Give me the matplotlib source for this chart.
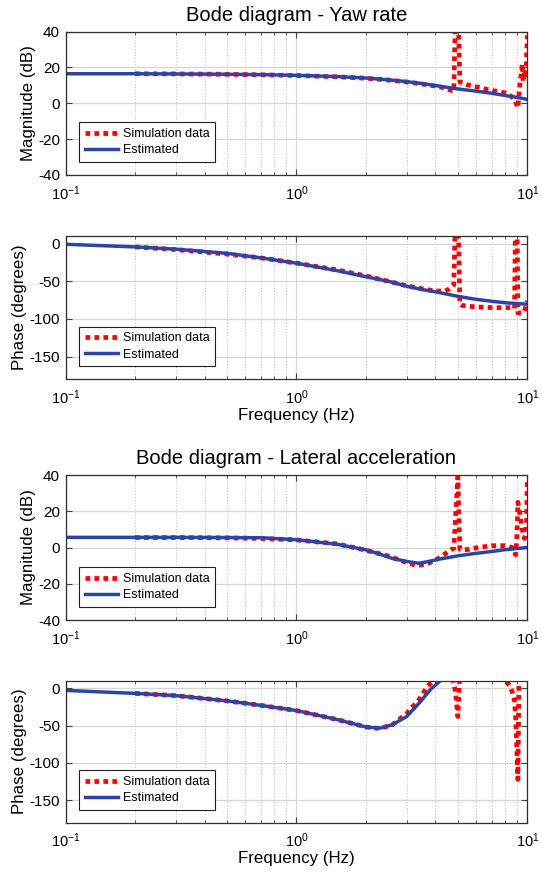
import numpy as np
import matplotlib
matplotlib.use('Agg')
import matplotlib.pyplot as plt
from matplotlib.ticker import LogLocator, NullFormatter

plt.rcParams['font.family'] = 'Liberation Sans'
plt.rcParams['mathtext.fontset'] = 'custom'
plt.rcParams['mathtext.rm'] = 'Liberation Sans'
plt.rcParams['mathtext.it'] = 'Liberation Sans:italic'
plt.rcParams['axes.unicode_minus'] = False

# estimated model
est_f = [0.1, 0.2, 0.3, 0.5, 0.7, 1.0, 1.5, 2.0, 2.5, 3.0, 3.5, 4.0, 5.0, 6.0, 7.0, 8.0, 9.0, 10.0]
est_yaw_mag = [16.5, 16.5, 16.4, 16.2, 16.0, 15.6, 14.9, 14.1, 13.1, 12.1, 11.0, 9.9, 8.0, 6.8, 5.6, 4.4, 3.3, 2.2]
est_yaw_ph = [-1, -4.5, -7.5, -13, -19, -26, -36, -44, -50, -56.5, -61, -64, -70, -74, -76.5, -78.5, -79.5, -80.5]

est_f2 = [0.1, 0.2, 0.3, 0.5, 0.7, 1.0, 1.5, 2.0, 2.3, 2.6, 3.0, 3.4, 3.8, 4.2, 5.0, 6.0, 7.0, 8.0, 10.0]
est_lat_mag = [5.6, 5.6, 5.6, 5.5, 5.4, 4.3, 1.8, -1.3, -3.7, -6.0, -7.7, -8.7, -7.5, -6.3, -4.6, -3.2, -2.2, -1.2, 0.0]
est_lat_ph = [-3, -7, -10, -17, -23, -30, -42, -52, -53.5, -49, -38, -20, -2, 10, 25, 30, 30, 30, 30]

# simulation data
sim_f1 = [0.2, 0.3, 0.5, 0.7, 1.0, 1.5, 2.0, 2.5, 3.0, 3.5, 4.0, 4.3, 4.6, 4.8, 4.9, 5.0, 5.1, 5.2, 5.5, 6.0,
          7.0, 8.0, 8.5, 8.8, 9.0, 9.1, 9.2, 9.3, 9.4, 9.5, 9.6, 9.7, 9.8, 9.9, 10.0]
sim_yaw_mag = [16.5, 16.4, 16.2, 15.9, 15.5, 14.8, 14.0, 13.0, 11.9, 10.8, 9.6, 8.8, 7.5, 6.8, 60, 60, 12.0, 11.5, 10.3, 9.2,
               7.2, 5.8, 4.0, 2.0, -1.0, -2.5, 5.0, 12.0, 16.0, 22.0, 12.0, 18.0, 14.0, 22.0, 38.0]

sim_f2 = [0.2, 0.3, 0.5, 0.7, 1.0, 1.5, 2.0, 2.5, 3.0, 3.5, 4.0, 4.4, 4.6, 4.8, 4.9, 5.0, 5.1, 5.2, 5.5, 6.0,
          7.0, 8.0, 8.5, 8.8, 8.9, 9.0, 9.1, 9.3, 9.5, 9.7, 9.9, 10.0]
sim_yaw_ph = [-4.5, -8, -14, -19, -26, -35, -43, -50, -56, -60, -63, -63, -60, -55, 60, 60, -80, -82, -83, -84,
              -85, -85, -85, -86, 60, 60, -92, -92, -92, -90, -82, -76]

sim_f3 = [0.2, 0.3, 0.5, 0.7, 1.0, 1.5, 2.0, 2.5, 3.0, 3.3, 3.6, 4.0, 4.4, 4.7, 4.8, 5.0, 5.1, 5.3, 5.6, 6.0,
          7.0, 8.0, 8.6, 8.8, 8.9, 9.0, 9.1, 9.3, 9.5, 9.7, 9.9, 10.0]
sim_lat_mag = [5.5, 5.5, 5.3, 5.0, 4.2, 2.0, -1.5, -4.7, -8.3, -9.8, -9.5, -7.0, -3.5, -1.0, -0.5, 39.0, -1.0, -1.3, -1.0, -0.2,
               1.0, 1.0, 0.0, -3.0, -4.0, 5.0, 25.0, 18.0, 10.0, 5.0, 8.0, 38.0]

sim_f4 = [0.2, 0.3, 0.5, 0.7, 1.0, 1.5, 2.0, 2.3, 2.6, 3.0, 3.4, 3.7, 4.0, 4.4, 4.7, 4.8, 4.9, 5.0, 5.1, 6.0,
          8.0, 8.4, 8.6, 8.8, 8.9, 9.0, 9.1, 9.2, 10.0]
sim_lat_ph = [-7, -10, -17, -23, -30, -42, -52, -54, -49, -34, -15, 3, 12, 16, 12, 9, -10, -38, 20, 30,
              11, 3, -5, -17, -40, -80, -122, 20, 30]

panels = [
    (sim_f1, sim_yaw_mag, est_f, est_yaw_mag, 'mag', 'Bode diagram - Yaw rate', False),
    (sim_f2, sim_yaw_ph, est_f, est_yaw_ph, 'ph', None, True),
    (sim_f3, sim_lat_mag, est_f2, est_lat_mag, 'mag', 'Bode diagram - Lateral acceleration', False),
    (sim_f4, sim_lat_ph, est_f2, est_lat_ph, 'ph', None, True),
]
boxes = [(0.121, 0.7998, 0.852, 0.1640),
         (0.121, 0.5660, 0.852, 0.1640),
         (0.121, 0.2906, 0.852, 0.1659),
         (0.121, 0.0587, 0.852, 0.1625)]

fig = plt.figure(figsize=(5.42, 8.74), dpi=100)

for (sf, sv, ef, ev, kind, title, xl), box in zip(panels, boxes):
    ax = fig.add_axes(box)
    ax.semilogx(sf, sv, color='red', ls=(0, (1, 0.9)), lw=3.4, label='Simulation data')
    ax.semilogx(ef, ev, color='#2a45a6', lw=2.5, label='Estimated')
    ax.set_xlim(0.1, 10)
    if kind == 'mag':
        ax.set_ylim(-40, 40)
        ax.set_yticks([-40, -20, 0, 20, 40])
        ax.set_ylabel('Magnitude (dB)', fontsize=12.2, labelpad=1.5)
    else:
        ax.set_ylim(-180, 10)
        ax.set_yticks([-150, -100, -50, 0])
        ax.set_ylabel('Phase (degrees)', fontsize=12.2, labelpad=1.5)
    ax.xaxis.set_major_locator(LogLocator(base=10))
    ax.xaxis.set_minor_locator(LogLocator(base=10, subs=np.arange(2, 10)))
    ax.xaxis.set_minor_formatter(NullFormatter())
    ax.tick_params(which='both', direction='in', top=True, right=True, color='#404040')
    ax.tick_params(axis='y', labelsize=11, pad=4)
    ax.tick_params(axis='x', labelsize=10.5, pad=6.5)
    ax.tick_params(which='major', length=4)
    ax.tick_params(which='minor', length=2.5)
    ax.grid(True, which='major', color='#d6d6d6', lw=0.9, ls='-')
    ax.grid(True, which='minor', axis='x', color='#bcbcbc', lw=0.7, ls=(0, (1, 2)))
    ax.set_axisbelow(True)
    for s in ax.spines.values():
        s.set_color('#303030')
        s.set_linewidth(0.9)
    if title:
        ax.set_title(title, fontsize=14.5, pad=8)
    if xl:
        ax.set_xlabel('Frequency (Hz)', fontsize=12.2, labelpad=0.5)
    leg = ax.legend(loc='lower left', bbox_to_anchor=(0.03, 0.09), borderaxespad=0,
                    fontsize=9, fancybox=False, edgecolor='#202020', framealpha=1,
                    handlelength=2.6, handletextpad=0.4, labelspacing=0.35, borderpad=0.45)
    leg.get_frame().set_linewidth(0.8)

fig.savefig('out.png', dpi=100)
